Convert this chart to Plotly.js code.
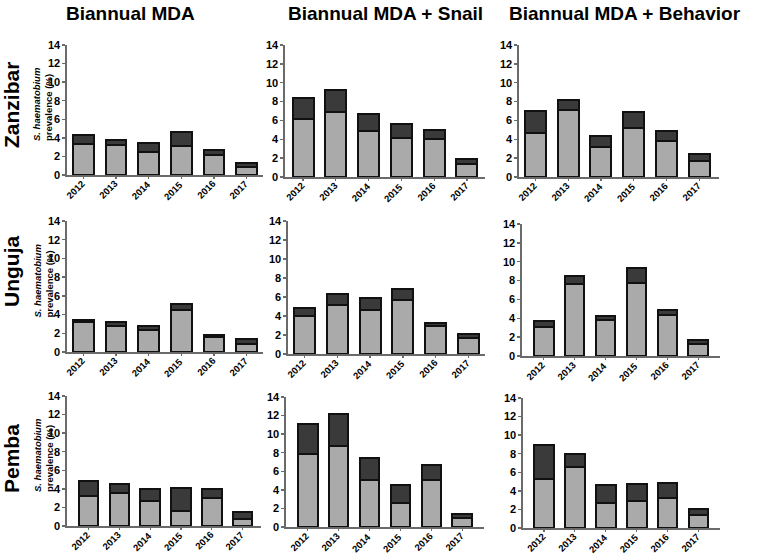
<!DOCTYPE html>
<html>
<head>
<meta charset="utf-8">
<script src="https://cdn.plot.ly/plotly-3.0.1.min.js"></script>
<style>html,body{margin:0;padding:0;background:#fff;}</style>
</head>
<body>
<div id="chart" style="width:757px;height:555px;"></div>
<script>
// ---- Data ----
const years = ['2012', '2013', '2014', '2015', '2016', '2017'];
const columnTitles = ['Biannual MDA', 'Biannual MDA + Snail', 'Biannual MDA + Behavior'];
const rowLabels = ['Zanzibar', 'Unguja', 'Pemba'];
const yTitle = '<i>S. haematobium</i><br>prevalence (%)';
const yTicks = [0, 2, 4, 6, 8, 10, 12, 14];

// lower (light) segment and total bar height
const zanzibarMDA_lower      = [3.3, 3.2, 2.5, 3.1, 2.2, 0.9];
const zanzibarMDA_total      = [4.3, 3.8, 3.4, 4.6, 2.7, 1.3];
const zanzibarSnail_lower    = [6.1, 6.9, 4.9, 4.1, 4.0, 1.4];
const zanzibarSnail_total    = [8.4, 9.2, 6.7, 5.6, 5.0, 1.9];
const zanzibarBehavior_lower = [4.7, 7.1, 3.2, 5.2, 3.8, 1.7];
const zanzibarBehavior_total = [7.0, 8.2, 4.4, 6.9, 4.9, 2.4];

const ungujaMDA_lower        = [3.2, 2.8, 2.4, 4.5, 1.6, 0.9];
const ungujaMDA_total        = [3.4, 3.2, 2.8, 5.1, 1.8, 1.4];
const ungujaSnail_lower      = [4.0, 5.2, 4.6, 5.7, 3.0, 1.7];
const ungujaSnail_total      = [4.8, 6.3, 5.9, 6.8, 3.3, 2.1];
const ungujaBehavior_lower   = [3.1, 7.6, 3.8, 7.7, 4.3, 1.3];
const ungujaBehavior_total   = [3.7, 8.5, 4.2, 9.3, 4.9, 1.7];

const pembaMDA_lower         = [3.2, 3.6, 2.7, 1.6, 3.0, 0.8];
const pembaMDA_total         = [4.9, 4.5, 4.0, 4.1, 4.0, 1.5];
const pembaSnail_lower       = [7.9, 8.7, 5.1, 2.6, 5.1, 1.0];
const pembaSnail_total       = [11.1, 12.2, 7.4, 4.5, 6.7, 1.4];
const pembaBehavior_lower    = [5.3, 6.6, 2.7, 2.9, 3.2, 1.4];
const pembaBehavior_total    = [8.9, 8.0, 4.6, 4.7, 4.9, 2.1];

const panelData = [
  [zanzibarMDA_lower, zanzibarMDA_total], [zanzibarSnail_lower, zanzibarSnail_total], [zanzibarBehavior_lower, zanzibarBehavior_total],
  [ungujaMDA_lower, ungujaMDA_total], [ungujaSnail_lower, ungujaSnail_total], [ungujaBehavior_lower, ungujaBehavior_total],
  [pembaMDA_lower, pembaMDA_total], [pembaSnail_lower, pembaSnail_total], [pembaBehavior_lower, pembaBehavior_total]
];

// ---- Layout geometry (pixels) ----
const W = 757, H = 555;
// [x0, x1, yTop(14), yBottom(0), rangeLo, rangeHi]
const panelGeom = [
  [67, 263, 45, 175, -0.5, 5.5],
  [285, 485, 45, 177, -0.55, 5.55],
  [519, 719, 45, 177, -0.5, 5.6],
  [67, 263, 221, 352, -0.5, 5.5],
  [288, 485, 221, 354, -0.5, 5.5],
  [522, 720, 224, 356, -0.7, 5.7],
  [67, 261, 396, 526, -0.7, 5.6],
  [286, 484, 397, 527, -0.7, 5.7],
  [523, 720, 398, 528, -0.68, 5.7]
];

const FONT = 'Liberation Sans, Arial, sans-serif';
const traces = [];
const layout = {
  width: W, height: H,
  margin: {l: 0, r: 0, t: 0, b: 0},
  paper_bgcolor: '#ffffff', plot_bgcolor: '#ffffff',
  showlegend: false,
  barmode: 'stack',
  font: {family: FONT, color: '#000'},
  annotations: []
};

panelData.forEach((pd, i) => {
  const n = i + 1;
  const xa = n === 1 ? 'x' : 'x' + n;
  const ya = n === 1 ? 'y' : 'y' + n;
  const lower = pd[0], total = pd[1];
  const upper = total.map((t, k) => +(t - lower[k]).toFixed(2));
  traces.push({
    type: 'bar', x: years, y: lower, xaxis: xa, yaxis: ya, width: 0.64,
    marker: {color: '#aaaaaa', line: {color: '#111', width: 2}},
    hoverinfo: 'x+y'
  });
  traces.push({
    type: 'bar', x: years, y: upper, xaxis: xa, yaxis: ya, width: 0.64,
    marker: {color: '#3a3a3a', line: {color: '#111', width: 2}},
    hoverinfo: 'x+y'
  });
  const g = panelGeom[i];
  const col = i % 3;
  const xKey = n === 1 ? 'xaxis' : 'xaxis' + n;
  const yKey = n === 1 ? 'yaxis' : 'yaxis' + n;
  layout[xKey] = {
    domain: [g[0] / W, g[1] / W],
    anchor: ya,
    type: 'category',
    range: [g[4], g[5]],
    showgrid: false, zeroline: false,
    showline: true, linecolor: '#6a6a6a', linewidth: 1.6,
    ticks: 'outside', ticklen: 2, tickcolor: '#6a6a6a', tickwidth: 1.2,
    showticklabels: false,
    fixedrange: true
  };
  layout[yKey] = {
    domain: [1 - g[3] / H, 1 - g[2] / H],
    anchor: xa,
    range: [0, 14],
    tickvals: yTicks,
    ticktext: yTicks.map(String),
    showgrid: false, zeroline: false,
    showline: true, linecolor: '#6a6a6a', linewidth: 1.6,
    ticks: 'outside', ticklen: 3, tickwidth: 1.4, tickcolor: '#6a6a6a',
    tickfont: {family: FONT, size: 11, weight: 'bold', color: '#000'},
    fixedrange: true
  };
  // rotated year labels, placed at each category position of the x axis
  years.forEach((yr, k) => {
    layout.annotations.push({
      text: yr, xref: xa, yref: 'paper', x: k, y: 1 - (g[3] + 2) / H,
      xanchor: 'right', yanchor: 'top', xshift: 5,
      textangle: -45, showarrow: false, borderpad: 0,
      font: {family: FONT, size: 9.5, weight: 'bold', color: '#000'}
    });
  });
  if (col === 0) {
    layout.annotations.push({
      text: yTitle, xref: 'paper', yref: 'paper',
      x: 43 / W, y: 1 - ((g[2] + g[3]) / 2 - 6) / H,
      xanchor: 'center', yanchor: 'middle', showarrow: false,
      textangle: -90, align: 'left',
      font: {family: FONT, size: 9.5, weight: 'bold', color: '#000'}
    });
  }
});

// Column titles
const colCenters = [130, 385, 625];
columnTitles.forEach((t, c) => {
  layout.annotations.push({
    text: t, xref: 'paper', yref: 'paper',
    x: colCenters[c] / W, y: 1 - 14 / H,
    xanchor: 'center', yanchor: 'middle', showarrow: false,
    font: {family: FONT, size: 19, weight: 'bold', color: '#000'}
  });
});

// Row labels
const rowCenters = [105, 272, 459];
rowLabels.forEach((t, r) => {
  layout.annotations.push({
    text: t, xref: 'paper', yref: 'paper',
    x: 11 / W, y: 1 - rowCenters[r] / H,
    xanchor: 'center', yanchor: 'middle', showarrow: false,
    textangle: -90,
    font: {family: FONT, size: 21, weight: 'bold', color: '#000'}
  });
});

Plotly.newPlot('chart', traces, layout, {staticPlot: true, displayModeBar: false});
</script>
</body>
</html>
